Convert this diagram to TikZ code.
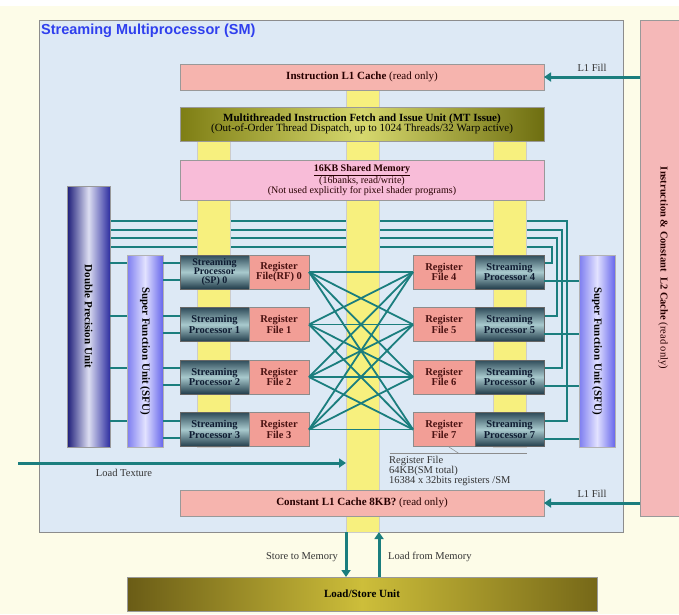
\documentclass[tikz,border=0pt]{standalone}
\usepackage{fontspec}
\setmainfont{Liberation Serif}
\newfontfamily\headfont{Liberation Sans}
\usetikzlibrary{arrows.meta,calc}
\pgfdeclarelayer{page}
\pgfdeclarelayer{back}
\pgfdeclarelayer{under}
\pgfdeclarelayer{bars}
\pgfsetlayers{page,back,under,bars,main}

\definecolor{cream}{HTML}{FDFCE8}
\definecolor{smblue}{HTML}{DDE9F5}
\definecolor{titleblue}{HTML}{2F3FEE}
\definecolor{l1pink}{HTML}{F6B4AE}
\definecolor{shmpink}{HTML}{F8BCD8}
\definecolor{l2pink}{HTML}{F5B8B8}
\definecolor{rffill}{HTML}{F29E96}
\definecolor{busyellow}{HTML}{F7F07E}
\definecolor{wireteal}{HTML}{1B7E7E}
\definecolor{olivedark}{HTML}{7E7E14}
\definecolor{olivelight}{HTML}{D6D86E}
\definecolor{olivedarkR}{HTML}{6E6E10}
\definecolor{lsdark}{HTML}{6A5C16}
\definecolor{lslight}{HTML}{CDBE3A}
\definecolor{lsdarkR}{HTML}{766818}
\definecolor{spdark}{HTML}{2F4C5A}
\definecolor{splight}{HTML}{A9CACE}
\definecolor{spdarkB}{HTML}{213C4A}
\definecolor{sptext}{HTML}{0E1C32}
\definecolor{rftext}{HTML}{4A1212}
\definecolor{dpdark}{HTML}{1C1C78}
\definecolor{dplight}{HTML}{DCDEF2}
\definecolor{dpdarkR}{HTML}{2E2EA0}
\definecolor{sfuedge}{HTML}{7C7CF0}
\definecolor{sfulight}{HTML}{E2E2FF}
\definecolor{sfuedgeR}{HTML}{6666EC}
\definecolor{notegray}{HTML}{333333}

\tikzset{
  boxbase/.style={anchor=north west, align=center, line width=0.6pt,
    font=\fontsize{11}{10.5}\selectfont, inner sep=1pt, outer sep=0pt},
  cachebox/.style={boxbase, draw=black!40, fill=l1pink, text=black!85!red,
    minimum width=364pt, minimum height=26pt},
  mtbox/.style={boxbase, draw=black!40, left color=olivedark, right color=olivedarkR,
    middle color=olivelight, minimum width=364pt, minimum height=34pt},
  shmbox/.style={boxbase, draw=black!40, fill=shmpink, text=black!85!red,
    font=\fontsize{10}{9.7}\selectfont, minimum width=364pt, minimum height=40pt},
  lsbox/.style={boxbase, draw=black!40, left color=lsdark, right color=lsdarkR,
    middle color=lslight, minimum width=470pt, minimum height=34pt},
  l2box/.style={boxbase, draw=black!40, fill=l2pink, minimum width=46pt, minimum height=496pt},
  dpbox/.style={boxbase, draw=black!40, left color=dpdark, right color=dpdarkR,
    middle color=dplight, minimum width=43pt, minimum height=261pt},
  sfubox/.style={boxbase, draw=black!30, left color=sfuedge, right color=sfuedgeR,
    middle color=sfulight, minimum width=36pt, minimum height=192pt},
  spbox/.style={boxbase, draw=black!60, top color=spdark, bottom color=spdarkB,
    middle color=splight, text=sptext, font=\bfseries\fontsize{10.5}{10.5}\selectfont,
    minimum width=69pt, minimum height=34pt},
  rfbox/.style={boxbase, draw=black!45, fill=rffill, text=rftext,
    font=\bfseries\fontsize{10.5}{10.5}\selectfont, minimum width=60pt, minimum height=34pt},
  busbar/.style={anchor=north west, fill=busyellow, draw=black!20, line width=0.4pt,
    inner sep=0pt, outer sep=0pt, minimum width=33pt},
  vlabel/.style={rotate=-90, font=\bfseries\fontsize{11}{11}\selectfont, inner sep=0pt},
  note/.style={font=\fontsize{10.5}{10}\selectfont, text=notegray, inner sep=0pt},
  wire/.style={wireteal, line width=2pt},
  bigarrow/.style={wireteal, line width=3pt, -{Triangle[length=7pt,width=9pt]}},
}

\begin{document}
\begin{tikzpicture}[x=1pt,y=-1pt]
\useasboundingbox (0,0) rectangle (679,614);
\begin{pgfonlayer}{page}
  \fill[white] (0,0) rectangle (679,614);
  \fill[cream] (0,6) rectangle (679,614);
\end{pgfonlayer}

% SM frame and title
\begin{pgfonlayer}{back}
  \node[anchor=north west, draw=black!45, line width=0.6pt, fill=smblue,
        minimum width=584pt, minimum height=512pt, inner sep=0pt, outer sep=0pt] (sm) at (39,20) {};
\end{pgfonlayer}
\node[anchor=north west, inner sep=0pt, text=titleblue,
      font=\headfont\bfseries\fontsize{14.5}{14.5}\selectfont] (title) at (41,24)
      {Streaming Multiprocessor (SM)};

% L2 cache on the right
\node[l2box] (l2) at (640,20) {};
\node[vlabel, font=\fontsize{10.5}{10.5}\selectfont, text=black!85!red] (l2txt) at (l2.center)
  {\textbf{Instruction \& Constant\ \ L2 Cache} (read only)};

% yellow buses
\begin{pgfonlayer}{bars}
  \node[busbar, minimum height=442pt] (cbar) at (346,90) {};
  \node[busbar, minimum height=306pt] (lbar) at (197,141) {};
  \node[busbar, minimum height=306pt] (rbar) at (493,141) {};
\end{pgfonlayer}

% horizontal units
\node[cachebox] (l1i) at (180,64) {\textbf{Instruction L1 Cache} (read only)};
\node[mtbox] (mt) at (180,107)
  {\textbf{Multithreaded Instruction Fetch and Issue Unit (MT Issue)}\\
   (Out-of-Order Thread Dispatch, up to 1024 Threads/32 Warp active)};
\node[shmbox] (shm) at (180,160)
  {\textbf{\underline{16KB Shared Memory}}\\(16banks, read/write)\\(Not used explicitly for pixel shader programs)};
\node[cachebox] (l1c) at (180,490) {\textbf{Constant L1 Cache 8KB?} (read only)};
\node[lsbox] (ls) at (127,577) {\textbf{Load/Store Unit}};

% special function units
\node[dpbox] (dpu) at (67,186) {};
\node[vlabel] at (dpu.center) {Double Precision Unit};
\node[sfubox] (sfuL) at (127,255) {};
\node[vlabel] at (sfuL.center) {Super Function Unit (SFU)};
\node[sfubox] (sfuR) at (579,255) {};
\node[vlabel] at (sfuR.center) {Super Function Unit (SFU)};

% streaming processors and register files
\node[spbox, font=\bfseries\fontsize{10}{9}\selectfont] (sp0) at (180,255) {Streaming\\Processor\\(SP) 0};
\node[rfbox] (rf0) at (249,255) {Register\\File(RF) 0};
\node[spbox] (sp1) at (180,307.5) {Streaming\\Processor 1};
\node[rfbox] (rf1) at (249,307.5) {Register\\File 1};
\node[spbox] (sp2) at (180,360) {Streaming\\Processor 2};
\node[rfbox] (rf2) at (249,360) {Register\\File 2};
\node[spbox] (sp3) at (180,412.5) {Streaming\\Processor 3};
\node[rfbox] (rf3) at (249,412.5) {Register\\File 3};

\node[rfbox, minimum width=62pt] (rf4) at (413,255) {Register\\File 4};
\node[spbox] (sp4) at (475,255) {Streaming\\Processor 4};
\node[rfbox, minimum width=62pt] (rf5) at (413,307.5) {Register\\File 5};
\node[spbox] (sp5) at (475,307.5) {Streaming\\Processor 5};
\node[rfbox, minimum width=62pt] (rf6) at (413,360) {Register\\File 6};
\node[spbox] (sp6) at (475,360) {Streaming\\Processor 6};
\node[rfbox, minimum width=62pt] (rf7) at (413,412.5) {Register\\File 7};
\node[spbox] (sp7) at (475,412.5) {Streaming\\Processor 7};

% register file crossbar
\foreach \i in {0,1,2,3}
  \foreach \j in {4,5,6,7}
    \draw[wire, line width=1.8pt] (rf\i.east) -- (rf\j.west);

% left-side unit links
\foreach \k in {0,1,2,3} {
  \coordinate (uL\k) at ($(sp\k.north west)+(0,8)$);
  \coordinate (dL\k) at ($(sp\k.north west)+(0,25)$);
  \draw[wire] (dpu.east |- uL\k) -- (sfuL.west |- uL\k);
  \draw[wire] (sfuL.east |- uL\k) -- (uL\k);
  \draw[wire] (sfuL.east |- dL\k) -- (dL\k);
}

% right-side unit links
\foreach \k in {4,5,6,7} {
  \coordinate (uR\k) at ($(sp\k.north east)+(0,8)$);
  \coordinate (dR\k) at ($(sp\k.north east)+(0,26)$);
  \draw[wire] (dR\k) -- (sfuR.west |- dR\k);
}

% double precision bus running under the yellow buses
\begin{pgfonlayer}{under}
  \foreach \y/\x/\k in {221/567/7, 229.5/562/6, 238/557/5, 246.5/551.5/4}
    \draw[wire] (dpu.east |- 0,\y) -- (\x,\y) |- (uR\k);
\end{pgfonlayer}

% L1 fill from L2
\draw[bigarrow] (l2.west |- l1i.east) -- (l1i.east);
\node[note] (fill1) at (592,68) {L1 Fill};
\draw[bigarrow] (l2.west |- l1c.east) -- (l1c.east);
\node[note] (fill2) at (592,494) {L1 Fill};

% texture path
\coordinate (texin) at (18,463);
\draw[bigarrow] (texin) -- (cbar.west |- texin);
\node[note] (textxt) at (124,473) {Load Texture};

% register file annotation
\coordinate (rfa) at (449,447);
\coordinate (rfb) at (459,453.5);
\coordinate (rfc) at (527,453.5);
\coordinate (rfd) at (390,453.5);
\draw[black!45, line width=0.5pt] (rfa) -- (rfb);
\draw[black!45, line width=0.5pt] (rfd) -- (rfc);
\node[note, anchor=north west, align=left] (rfnote) at (389,456)
  {Register File\\64KB(SM total)\\16384 x 32bits registers /SM};

% memory traffic
\draw[bigarrow] (cbar.south west) -- (cbar.south west |- ls.north);
\draw[bigarrow] (cbar.south east |- ls.north) -- (cbar.south east);
\node[note, anchor=east] (st) at (338,557) {Store to Memory};
\node[note, anchor=west] (ld) at (388,557) {Load from Memory};
\end{tikzpicture}
\end{document}
